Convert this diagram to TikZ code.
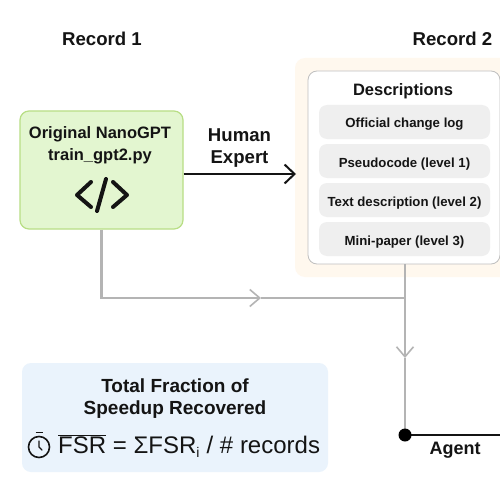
\documentclass[tikz,border=0pt]{standalone}
\usepackage{fontspec}
\setmainfont{Liberation Sans}
\usetikzlibrary{arrows.meta}
\definecolor{peachbg}{HTML}{FFF8EE}
\definecolor{greenbg}{HTML}{E3F6D0}
\definecolor{greenline}{HTML}{B8DE85}
\definecolor{bluebg}{HTML}{EAF3FC}
\definecolor{pillbg}{HTML}{EFEFEF}
\definecolor{wireline}{HTML}{B4B4B4}
\definecolor{inkblack}{HTML}{141414}
\tikzset{
  pill/.style={fill=pillbg, rounded corners=8pt, minimum width=171pt, minimum height=34pt,
    inner sep=0pt, text height=12pt, text depth=0pt, font=\fontsize{13.2}{15}\selectfont\bfseries},
  heading/.style={font=\fontsize{18.6}{22}\selectfont\bfseries, inner sep=0pt, align=center},
  wire/.style={wireline, line width=2.2pt},
  wiretip/.style={-{Straight Barb[length=10pt,width=17pt,line width=1.6pt]}},
}
\begin{document}
\begin{tikzpicture}[x=1pt, y=-1pt, text=inkblack]
    \useasboundingbox (0,0) rectangle (500,500);
    \clip (0,0) rectangle (500,500);
    \fill[white] (0,0) rectangle (500,500);

    % Column titles
    \node[heading] (record1) at (102,39) {Record 1};
    \node[heading] (record2) at (452.5,39) {Record 2};

    % Description panel
    \fill[peachbg, rounded corners=10pt] (295,58) rectangle (520,277);
    \node[draw=black!25, line width=0.8pt, fill=white, rounded corners=9pt, minimum width=192pt,
      minimum height=193pt, inner sep=0pt] (descbox) at (404,167.5) {};
    \node[font=\fontsize{16.5}{20}\selectfont\bfseries, inner sep=0pt] (desctitle) at (403,91) {Descriptions};
    \node[pill] (changelog) at (404.5,122) {Official change log};
    \node[pill] (pseudo) at (404.5,161) {Pseudocode (level 1)};
    \node[pill] (textdesc) at (404.5,200) {Text description (level 2)};
    \node[pill] (minipaper) at (404.5,239) {Mini-paper (level 3)};

    % Source code box
    \node[draw=greenline, line width=1.2pt, fill=greenbg, rounded corners=9pt, minimum width=163pt,
      minimum height=118pt, inner sep=0pt] (orig) at (101.5,170) {};
    \node[font=\fontsize{16.5}{22}\selectfont\bfseries, align=center, inner sep=0pt] (origtext) at (100,145)
      {Original NanoGPT\\train\_gpt2.py};
    \draw[inkblack, line width=4pt, line cap=round, line join=round]
      (91,182) -- (77,195) -- (91,207) (106,179) -- (97,211) (113,182) -- (127,195) -- (113,207);

    % Expert arrow
    \coordinate (exptip) at (296,174);
    \draw[inkblack, line width=2.4pt, -{Straight Barb[length=10pt,width=19pt,line width=2pt]}]
      (orig.east |- exptip) -- (exptip);
    \node[heading] (expert) at (239.5,148) {Human\\Expert};

    % Gray wires
    \coordinate (midh) at (261,298);
    \coordinate (join) at (405,298);
    \coordinate (midv) at (405,358);
    \coordinate (agentdot) at (405,435);
    \coordinate (agentend) at (500,435);
    \draw[wire, wiretip] (orig.south) |- (midh);
    \draw[wire] (midh) -- (join);
    \draw[wire, wiretip] (descbox.south -| join) -- (midv);
    \draw[wire] (midv) -- (agentdot);

    % Agent line
    \draw[inkblack, line width=2.4pt] (agentdot) -- (agentend);
    \fill[black] (agentdot) circle (6.5pt);
    \node[font=\fontsize{18}{22}\selectfont\bfseries, inner sep=0pt] (agent) at (455,450) {Agent};

    % Summary box
    \node[fill=bluebg, rounded corners=9pt, minimum width=306pt, minimum height=109pt, inner sep=0pt]
      (summary) at (175,417.5) {};
    \node[font=\fontsize{19}{22}\selectfont\bfseries, inner sep=0pt, align=center] (sumtitle) at (175,398.5)
      {Total Fraction of\\Speedup Recovered};
    \node[font=\fontsize{24}{28}\selectfont, inner sep=0pt, anchor=west] (formula) at (58,446)
      {$\overline{\hbox{FSR}}$ = ΣFSR$_{\hbox{\fontsize{14}{16}\selectfont i}}$ / \# records};
    % Stopwatch
    \draw[inkblack, line width=1.6pt] (39,447) circle (10.5pt);
    \draw[inkblack, line width=1.6pt] (35.5,432.5) -- (43,432.5);
    \draw[inkblack, line width=1.4pt, line cap=round, line join=round] (39,441) -- (39,447) -- (42,450);
\end{tikzpicture}
\end{document}
